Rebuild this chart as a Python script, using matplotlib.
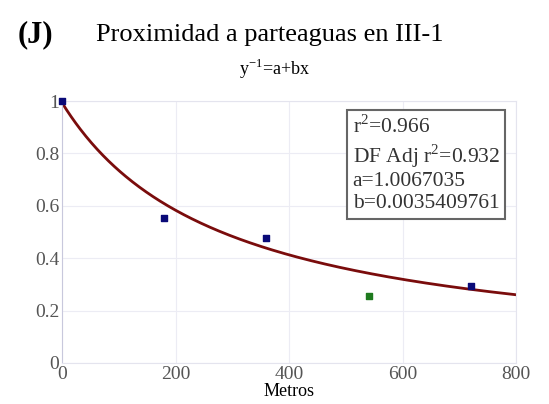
import matplotlib.pyplot as plt
import numpy as np

# observed points (distance in metres, proportion)
metros = [0, 180, 360, 720]
valores = [1.0, 0.553, 0.477, 0.294]
metros_out = [540]
valores_out = [0.256]

# reciprocal model y^-1 = a + b x
a = 1.0067035
b = 0.0035409761
r2 = 0.966
r2_adj = 0.932

xticks = [0, 200, 400, 600, 800]
yticks = [0, 0.2, 0.4, 0.6, 0.8, 1]

plt.rcParams['font.family'] = ['Liberation Serif', 'DejaVu Serif']

fig = plt.figure(figsize=(5.49, 4.04), dpi=100)
ax = fig.add_axes([0.113, 0.1015, 0.827, 0.6485])

xs = np.linspace(0, 800, 400)
ax.plot(xs, 1.0 / (a + b * xs), color='#7a0c0c', lw=2.0, zorder=2)
ax.scatter(metros, valores, marker='s', s=13, color='#0a0a78', zorder=3, clip_on=False)
ax.scatter(metros_out, valores_out, marker='s', s=13, color='#1e7a1e', zorder=3)

ax.set_xlim(0, 800)
ax.set_ylim(0, 1)
ax.set_xticks(xticks)
ax.set_yticks(yticks)
ax.set_yticklabels(['0', '0.2', '0.4', '0.6', '0.8', '1'])
ax.tick_params(length=0, labelsize=14, labelcolor='#555555', pad=2)
ax.grid(True, color='#ececf4', lw=0.8)
for s in ax.spines.values():
    s.set_color('#e4e4ee')
    s.set_linewidth(0.8)
ax.spines['left'].set_color('#c8c8dc')

ax.set_xlabel('Metros', fontsize=13, labelpad=0)

fig.text(0.033, 0.913, '(J)', fontsize=22, fontweight='bold', va='center')
fig.text(0.492, 0.913, 'Proximidad a parteaguas en III-1', fontsize=19, ha='center', va='center')
fig.text(0.5, 0.83, r'y$^{\mathregular{-1}}$=a+bx', fontsize=13, ha='center', va='center')

stats = (f'r$^{{\\mathregular{{2}}}}$={r2}\n'
         f'DF Adj r$^{{\\mathregular{{2}}}}$={r2_adj}\n'
         f'a={a}\nb={b}')
ax.text(0.64, 0.945, stats, transform=ax.transAxes, fontsize=15.5, va='top',
        color='#333333', linespacing=1.2,
        bbox=dict(boxstyle='square,pad=0.25', fc='white', ec='#666666', lw=1.5))

fig.savefig('out.png', dpi=100)
